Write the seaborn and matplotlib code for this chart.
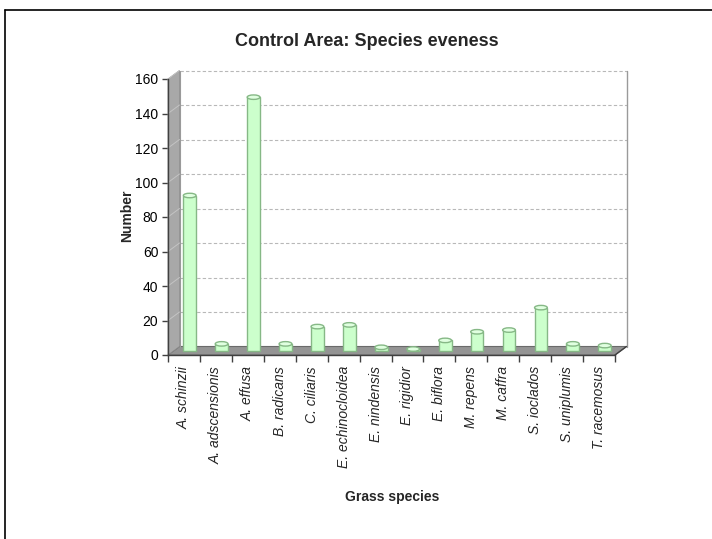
import numpy as np
import pandas as pd
import matplotlib
matplotlib.use("Agg")
import matplotlib.pyplot as plt
import matplotlib.transforms as mtransforms
from matplotlib.patches import Polygon, Ellipse
from matplotlib.lines import Line2D
import seaborn as sns

species = ["A. schinzii", "A. adscensionis", "A. effusa", "B. radicans", "C. ciliaris",
           "E. echinocloidea", "E. nindensis", "E. rigidior", "E. biflora", "M. repens",
           "M. caffra", "S. ioclados", "S. uniplumis", "T. racemosus"]
counts = [90, 4, 147, 4, 14, 15, 2, 1, 6, 11, 12, 25, 4, 3]
y_ticks = [0, 20, 40, 60, 80, 100, 120, 140, 160]

df = pd.DataFrame({"species": species, "count": counts})

sns.set_theme(style="white")
plt.rcParams["font.family"] = ["Liberation Sans", "DejaVu Sans"]

fig = plt.figure(figsize=(7.12, 5.39), dpi=100)
# front plane of the 3D box
ax = fig.add_axes([168 / 712, 1 - 355 / 539, 447 / 712, 276 / 539])
ax.patch.set_visible(False)
n = len(species)
x0, x1 = -0.5, n - 0.5
ymax = y_ticks[-1]
ax.set_xlim(x0, x1)
ax.set_ylim(0, ymax)

# depth offset in pixels (back plane is up and to the right)
DX, DY = 11.5, 8.5
back = mtransforms.offset_copy(ax.transData, fig=fig, x=DX, y=DY, units="dots")
mid = mtransforms.offset_copy(ax.transData, fig=fig, x=DX / 2, y=DY / 2, units="dots")
pix = mtransforms.IdentityTransform()

# floor slab
floor_px = np.vstack([ax.transData.transform([(x0, 0), (x1, 0)]),
                      back.transform([(x1, 0), (x0, 0)])])
ax.add_patch(Polygon(floor_px, closed=True, transform=pix, facecolor="#949494",
                     edgecolor="#6a6a6a", lw=0.8, zorder=1, clip_on=False))

# left side wall
wall_px = np.vstack([ax.transData.transform([(x0, 0), (x0, ymax)]),
                     back.transform([(x0, ymax), (x0, 0)])])
ax.add_patch(Polygon(wall_px, closed=True, transform=pix, facecolor="#a8a8a8",
                     edgecolor="#8a8a8a", lw=0.6, zorder=1, clip_on=False))

# back wall gridlines, side wall gridlines and edges
for t in y_ticks[1:]:
    ax.plot([x0, x1], [t, t], transform=back, color="#b8b8b8", lw=0.8,
            ls=(0, (3, 2)), zorder=1, clip_on=False)
    seg = np.vstack([ax.transData.transform((x0, t)), back.transform((x0, t))])
    ax.plot(seg[:, 0], seg[:, 1], transform=pix, color="#c4c4c4", lw=0.7,
            zorder=1.5, clip_on=False)
ax.plot([x1, x1], [0, ymax], transform=back, color="#9a9a9a", lw=1.0,
        zorder=1, clip_on=False)
ax.plot([x0, x0], [0, ymax], transform=back, color="#9a9a9a", lw=0.8,
        zorder=1, clip_on=False)

# bars (cylinders) at mid depth
sns.barplot(data=df, x="species", y="count", color="#ccffcc", width=0.4,
            edgecolor="#86b886", linewidth=1.0, saturation=1, ax=ax, zorder=3)
for bar in ax.patches[2:]:
    bar.set_transform(mid)
    bar.set_clip_on(False)
for i, v in enumerate(counts):
    cap = Ellipse((i, v), width=0.4, height=2.6, transform=mid,
                  facecolor="#e0ffe0", edgecolor="#86b886", lw=1.0, zorder=4, clip_on=False)
    ax.add_patch(cap)

# floor right edge
seg = np.vstack([ax.transData.transform((x1, 0)), back.transform((x1, 0))])
ax.plot(seg[:, 0], seg[:, 1], transform=pix, color="#404040", lw=1.0,
        zorder=5, clip_on=False)

# axes styling
for side in ["top", "right"]:
    ax.spines[side].set_visible(False)
for side in ["left", "bottom"]:
    ax.spines[side].set_color("#404040")
    ax.spines[side].set_linewidth(1.0)
    ax.spines[side].set_zorder(5)

ax.set_xlim(x0, x1)
ax.set_ylim(0, ymax)
ax.set_yticks(y_ticks)
ax.set_yticklabels([str(t) for t in y_ticks], fontsize=10, color="black")
ax.tick_params(axis="y", which="major", direction="out", length=4, width=1,
               color="#404040", left=True, pad=3)
ax.set_xticks(range(n))
ax.set_xticklabels(species, rotation=90, fontsize=10, style="italic",
                   va="top", ha="center")
ax.set_xticks(np.arange(-0.5, n, 1.0), minor=True)
ax.tick_params(axis="x", which="major", length=0, pad=8)
ax.tick_params(axis="x", which="minor", direction="out", length=5, width=1,
               color="#404040", bottom=True)
ax.set_xlabel("")
ax.set_ylabel("")

fig.text(367 / 712, 1 - 42 / 539, "Control Area: Species eveness", fontsize=13,
         fontweight="bold", ha="center", va="center")
fig.text(127 / 712, 1 - 216 / 539, "Number", fontsize=10, fontweight="bold",
         rotation=90, ha="center", va="center")
fig.text(392 / 712, 1 - 497 / 539, "Grass species", fontsize=10, fontweight="bold",
         ha="center", va="center")

# chart frame (left and top edges visible)
fig.add_artist(Line2D([5 / 712, 5 / 712], [0, 1 - 9.5 / 539], color="black", lw=1.2))
fig.add_artist(Line2D([5 / 712, 1], [1 - 9.5 / 539, 1 - 9.5 / 539], color="black", lw=1.2))

fig.savefig("out.png", dpi=100)
